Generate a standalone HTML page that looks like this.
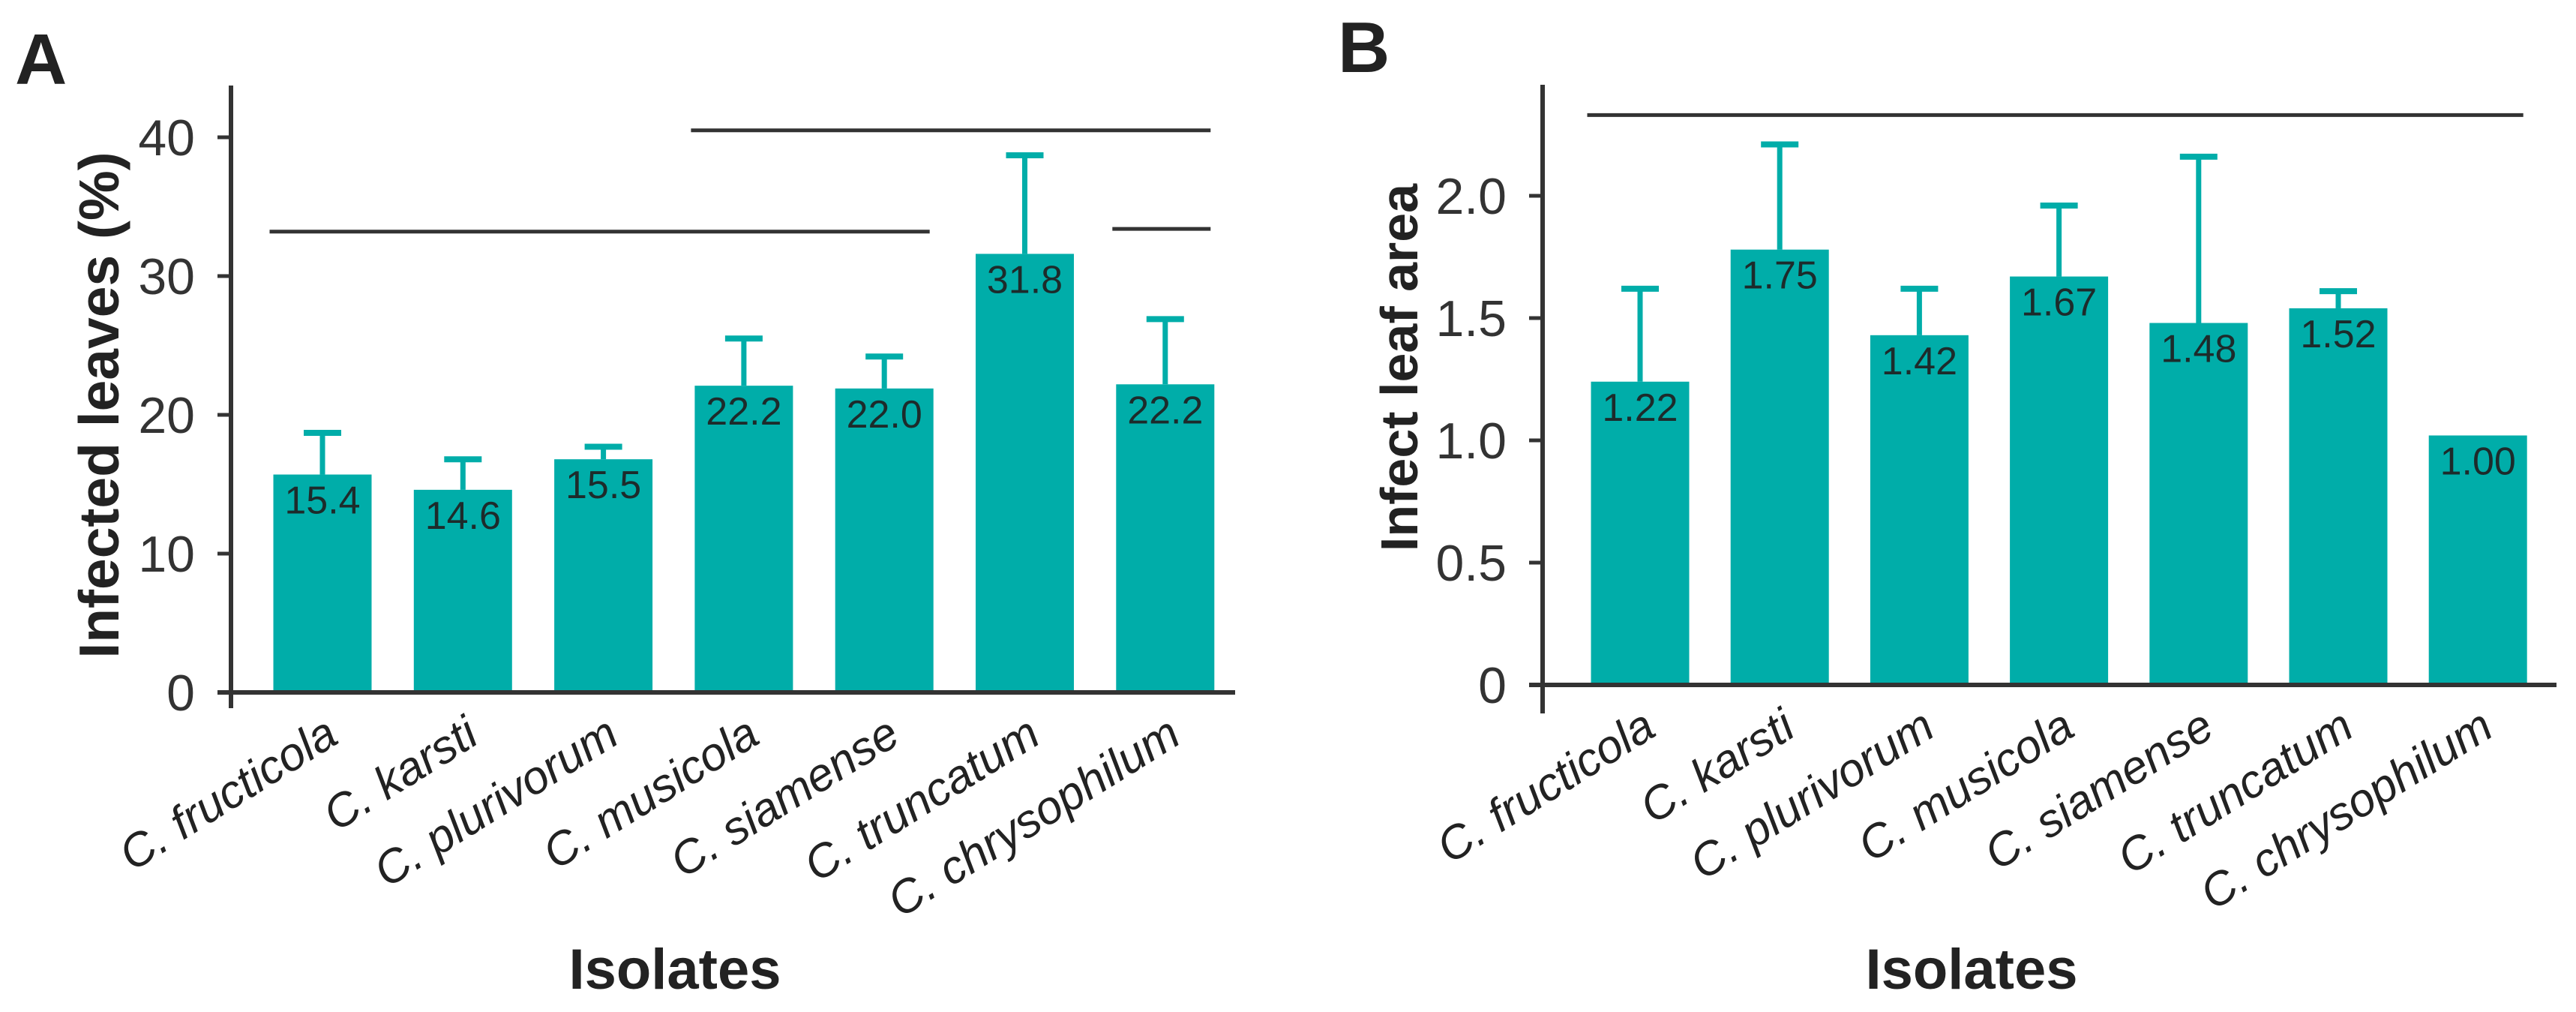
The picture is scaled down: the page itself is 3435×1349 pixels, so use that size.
<!DOCTYPE html>
<html><head><meta charset="utf-8">
<style>
html,body{margin:0;padding:0;background:#fff;}
svg{display:block;font-family:"Liberation Sans",Arial,sans-serif;}
</style></head>
<body>
<svg id="fig" width="3435" height="1349" viewBox="0 0 3435 1349" xmlns="http://www.w3.org/2000/svg">
<rect width="3435" height="1349" fill="#fff"/>
<text x="20" y="112" font-size="96" font-weight="bold" fill="#222">A</text>
<text x="1784" y="96" font-size="96" font-weight="bold" fill="#222">B</text>
<g id="chartA"></g>
<g id="chartB"></g>
</svg>
<script>
const categories = ["C. fructicola","C. karsti","C. plurivorum","C. musicola","C. siamense","C. truncatum","C. chrysophilum"];
const valuesA = [15.7,14.6,16.8,22.1,21.9,31.6,22.2];
const errTopA = [18.7,16.8,17.7,25.5,24.2,38.7,26.9];
const labelsA = ["15.4","14.6","15.5","22.2","22.0","31.8","22.2"];
const ticksA = [0,10,20,30,40];
const tickLabelsA = ["0","10","20","30","40"];
const valuesB = [1.24,1.78,1.43,1.67,1.48,1.54,1.02];
const errTopB = [1.62,2.21,1.62,1.96,2.16,1.61,null];
const labelsB = ["1.22","1.75","1.42","1.67","1.48","1.52","1.00"];
const ticksB = [0,0.5,1.0,1.5,2.0];
const tickLabelsB = ["0","0.5","1.0","1.5","2.0"];
const sigA = [[3,6,40.5],[0,4,33.2],[6,6,33.4]];
const sigB = [[0,6,2.33]];

const NS="http://www.w3.org/2000/svg";
const TEAL="#00ADA9", DARK="#333";
function mk(tag,attrs,parent){const e=document.createElementNS(NS,tag);for(const k in attrs)e.setAttribute(k,attrs[k]);parent.appendChild(e);return e;}

function drawChart(g,cfg){
  const y=v=>cfg.y0-v*cfg.ppu;
  const x=i=>cfg.x0+i*cfg.step;
  let a=mk('line',{x1:cfg.ax,y1:cfg.axTop,x2:cfg.ax,y2:cfg.axBot,stroke:DARK,'stroke-width':6},g);
  
  
  a=mk('line',{x1:cfg.ax-18,y1:cfg.y0,x2:cfg.axRight,y2:cfg.y0,stroke:DARK,'stroke-width':6},g);
  
  
  cfg.ticks.forEach((t,i)=>{
    const tk=mk('line',{x1:cfg.ax-18,y1:y(t),x2:cfg.ax,y2:y(t),stroke:DARK,'stroke-width':5},g);
    
    
    const tl=mk('text',{x:cfg.ax-48,y:y(t)+24,'text-anchor':'end','font-size':68,fill:DARK},g);
    tl.textContent=cfg.tickLabels[i];
    
    
  });
  categories.forEach((c,i)=>{
    const cx=x(i), v=cfg.values[i];
    if(cfg.err[i]!=null){
      const s=mk('line',{x1:cx,y1:y(v),x2:cx,y2:y(cfg.err[i]),stroke:TEAL,'stroke-width':7},g);
      
      
      const cp=mk('line',{x1:cx-25,y1:y(cfg.err[i]),x2:cx+25,y2:y(cfg.err[i]),stroke:TEAL,'stroke-width':8},g);
      
      
    }
    const b=mk('rect',{x:cx-cfg.bw/2,y:y(v),width:cfg.bw,height:cfg.y0-3-y(v),fill:TEAL},g);
    
    
    const vl=mk('text',{x:cx,y:y(v)+52,'text-anchor':'middle','font-size':52,fill:'#1d2b2b'},g);
    vl.textContent=cfg.labels[i];
    
    
    const cl=mk('text',{x:0,y:0,'text-anchor':'end','font-size':62,'font-style':'italic',fill:'#222',
      transform:`translate(${cx+24},${cfg.y0+66}) rotate(-32)`},g);
    cl.textContent=c;
    
    
  });
  cfg.sig.forEach(s=>{
    const l=mk('line',{x1:x(s[0])-cfg.bw/2-5,y1:y(s[2]),x2:x(s[1])+cfg.bw/2-5,y2:y(s[2]),stroke:DARK,'stroke-width':5},g);
    
    
  });
  const yt=mk('text',{x:0,y:0,'text-anchor':'middle','font-size':cfg.ytSize,'font-weight':'bold',fill:'#222',
    transform:`translate(${cfg.ytX},${cfg.ytY}) rotate(-90)`},g);
  yt.textContent=cfg.yTitle;
  
  
  const xt=mk('text',{x:cfg.xtX,y:1318,'text-anchor':'middle','font-size':76,'font-weight':'bold',fill:'#222'},g);
  xt.textContent="Isolates";
  
  
}

drawChart(document.getElementById('chartA'),{
  ax:308,axTop:114,axBot:944,axRight:1647,y0:923,ppu:18.5,x0:430,step:187.3,bw:131,
  values:valuesA,err:errTopA,labels:labelsA,ticks:ticksA,tickLabels:tickLabelsA,sig:sigA,
  yTitle:"Infected leaves (%)",ytSize:75,ytX:158,ytY:540,xtX:900
});
drawChart(document.getElementById('chartB'),{
  ax:2057,axTop:113,axBot:951,axRight:3409,y0:913,ppu:326,x0:2187,step:186.2,bw:131,
  values:valuesB,err:errTopB,labels:labelsB,ticks:ticksB,tickLabels:tickLabelsB,sig:sigB,
  yTitle:"Infect leaf area",ytSize:70,ytX:1890,ytY:490,xtX:2629
});
</script>
</body></html>
